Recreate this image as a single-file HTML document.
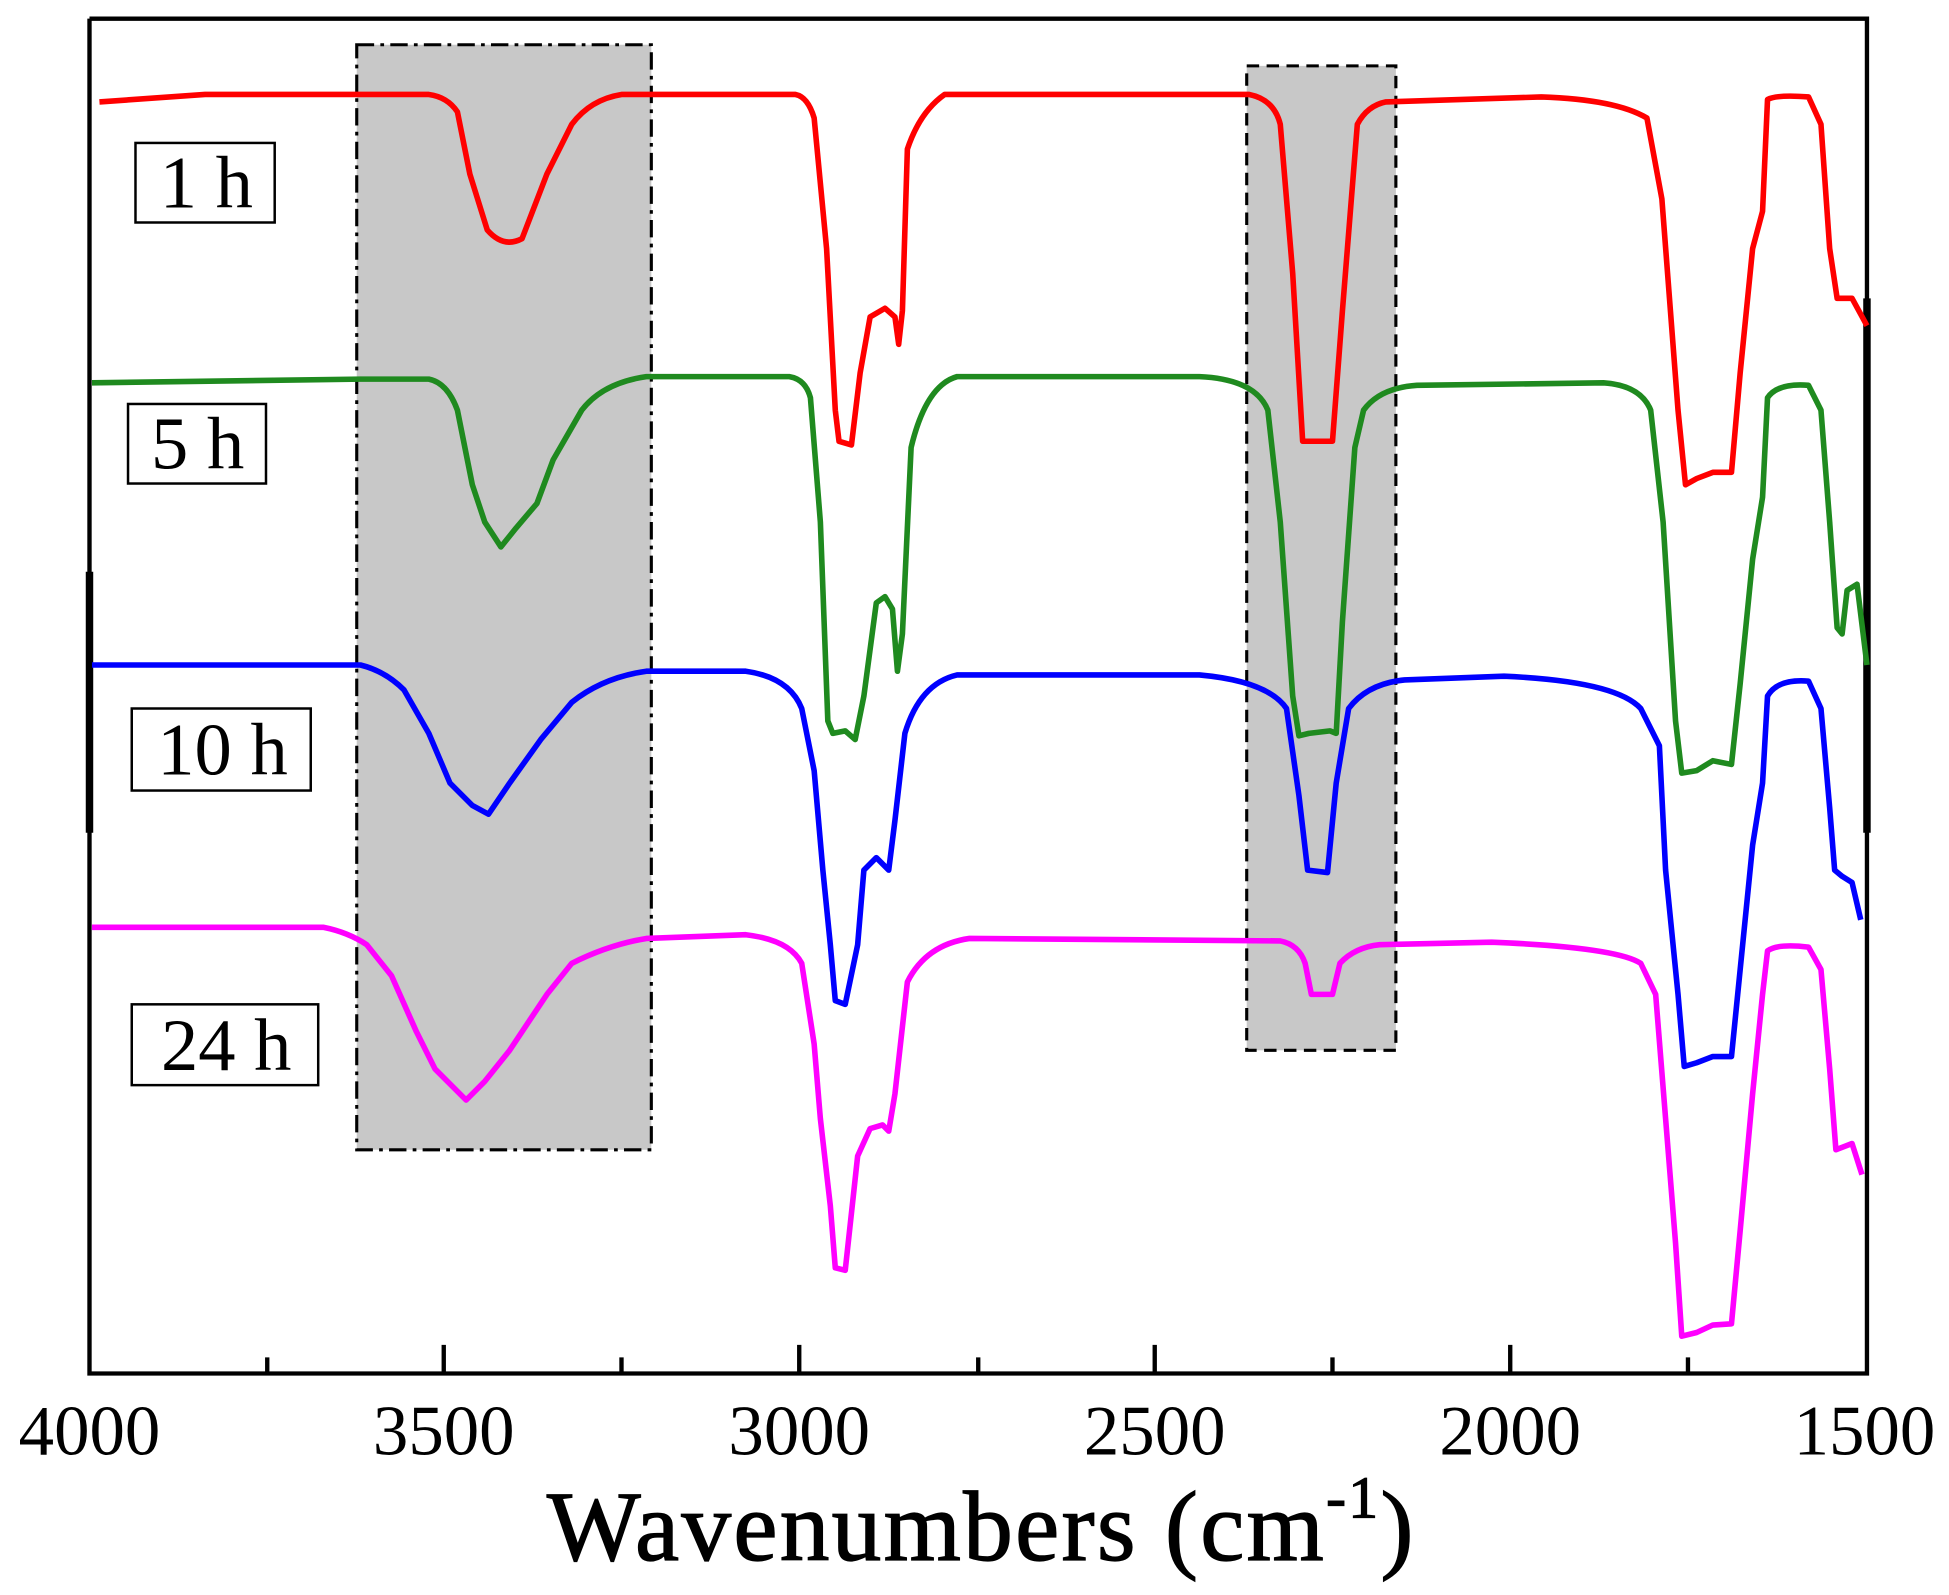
<!DOCTYPE html>
<html><head><meta charset="utf-8"><style>
html,body{margin:0;padding:0;background:#fff;}
svg{display:block;}
text{font-family:"Liberation Serif","DejaVu Serif",serif;fill:#000;}
</style></head><body>
<svg width="1949" height="1595" viewBox="0 0 1568 1283.2" xmlns="http://www.w3.org/2000/svg">
<rect x="0" y="0" width="1568" height="1284" fill="#fff"/>
<rect x="287" y="36" width="237" height="889" fill="#c8c8c8" stroke="#000" stroke-width="2.5" stroke-dasharray="14,5,3,5"/>
<rect x="1003" y="53" width="120" height="792" fill="#c8c8c8" stroke="#000" stroke-width="2.5" stroke-dasharray="10,6"/>
<path d="M72,15 L72,1105 L1502,1105 L1502,15 L72,15" fill="none" stroke="#000" stroke-width="3.5"/>
<path d="M72,460 L72,670 M1502,240 L1502,670" stroke="#000" stroke-width="6"/>
<g stroke="#000" stroke-width="3.5">
<path d="M357,1105 v-23 M643,1105 v-23 M929,1105 v-23 M1215,1105 v-23"/>
<path d="M215,1105 v-13 M500,1105 v-13 M787,1105 v-13 M1072,1105 v-13 M1358,1105 v-13"/>
</g>
<g font-size="57" text-anchor="middle">
<text x="72" y="1170">4000</text>
<text x="357" y="1170">3500</text>
<text x="643" y="1170">3000</text>
<text x="929" y="1170">2500</text>
<text x="1215" y="1170">2000</text>
<text x="1500" y="1170">1500</text>
</g>
<text x="440" y="1255" font-size="80" letter-spacing="1.8" stroke="#000" stroke-width="1">Wavenumbers (cm<tspan font-size="48" dy="-34">-1</tspan><tspan dy="34">)</tspan></text>
<g fill="none" stroke-width="4.5" stroke-linejoin="round">
<path stroke="#ff0000" d="M80,82 L165,76 L345,76 Q360,78 368,90 L378,140 L392,185 Q405,200 420,192 L440,140 L460,100 Q475,80 500,76 L640,76 Q650,78 655,95 L665,200 L672,330 L675,355 L685,358 L692,300 L700,255 L712,248 L720,255 L723,277 L726,250 L730,120 Q740,90 760,76 L1005,76 Q1025,80 1030,100 L1040,220 L1048,355 L1072,355 L1080,250 L1092,100 Q1100,85 1115,82 L1240,78 Q1300,80 1325,95 L1337,160 L1350,330 L1356,390 L1365,385 L1378,380 L1393,380 L1400,300 L1410,200 L1418,170 L1422,80 Q1430,76 1455,78 L1465,100 L1472,200 L1478,240 L1490,240 L1502,262"/>
<path stroke="#1f8a1f" d="M74,308 L290,305 L345,305 Q360,308 368,330 L380,390 L390,420 L403,440 L415,425 L432,405 L445,370 L468,330 Q485,308 520,303 L635,303 Q648,305 652,320 L660,420 L666,580 L670,590 L680,588 L688,595 L695,560 L705,485 L712,480 L718,490 L722,540 L726,510 L733,360 Q745,310 770,303 L965,303 Q1010,305 1020,330 L1030,420 L1040,560 L1045,592 L1053,590 L1070,588 L1075,590 L1080,500 L1090,360 L1097,330 Q1110,312 1140,310 L1290,308 Q1320,310 1328,330 L1338,420 L1348,580 L1353,622 L1365,620 L1378,612 L1393,615 L1400,550 L1410,450 L1418,400 L1422,320 Q1430,308 1455,310 L1465,330 L1472,420 L1478,505 L1482,510 L1486,475 L1494,470 L1502,535"/>
<path stroke="#0000ff" d="M74,535 L290,535 Q310,540 325,555 L345,590 L362,630 L380,648 L393,655 L410,630 L435,595 L460,565 Q485,545 520,540 L600,540 Q635,545 645,570 L655,620 L662,700 L668,760 L672,805 L680,808 L690,760 L695,700 L705,690 L715,700 L720,660 L728,590 Q740,550 770,543 L965,543 Q1020,548 1035,570 L1045,640 L1052,700 L1068,702 L1075,630 L1085,570 Q1100,550 1130,547 L1210,544 Q1300,548 1320,570 L1335,600 L1340,700 L1350,800 L1355,858 L1365,855 L1378,850 L1393,850 L1400,780 L1410,680 L1418,630 L1422,560 Q1430,546 1455,548 L1465,570 L1472,650 L1476,700 L1482,705 L1490,710 L1497,740"/>
<path stroke="#ff00ff" d="M74,746 L260,746 Q280,750 295,760 L315,785 L335,830 L350,860 L375,885 L390,870 L410,845 L440,800 L460,775 Q490,760 520,755 L600,752 Q635,756 645,775 L655,840 L660,900 L668,970 L672,1020 L680,1022 L690,930 L700,908 L710,905 L715,910 L720,880 L730,790 Q745,760 780,755 L1030,757 Q1045,760 1050,775 L1055,800 L1072,800 L1078,775 Q1090,762 1110,760 L1200,758 Q1300,762 1320,775 L1332,800 L1340,900 L1348,1000 L1353,1075 L1365,1072 L1378,1066 L1393,1065 L1400,990 L1410,880 L1418,800 L1422,765 Q1430,759 1455,762 L1465,780 L1472,860 L1477,925 L1490,920 L1498,945"/>
</g>
<g fill="#fff" stroke="#000" stroke-width="2">
<rect x="109" y="115" width="112" height="64"/>
<rect x="103" y="325" width="111" height="64"/>
<rect x="106" y="570" width="144" height="66"/>
<rect x="106" y="808" width="150" height="65"/>
</g>
<g font-size="60" text-anchor="middle">
<text x="166" y="167">1 h</text>
<text x="159" y="377">5 h</text>
<text x="179" y="623">10 h</text>
<text x="182" y="861">24 h</text>
</g>
</svg>
</body></html>
